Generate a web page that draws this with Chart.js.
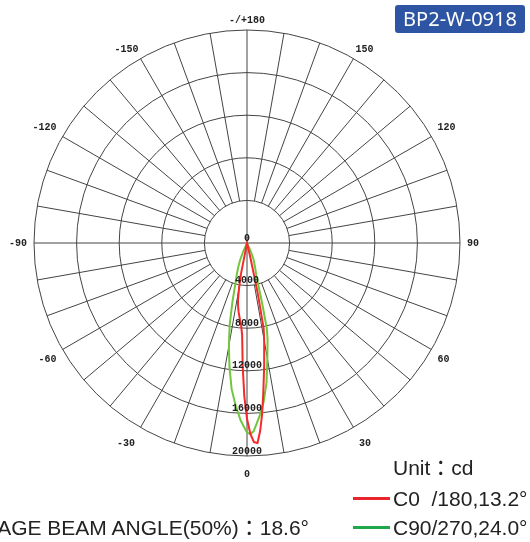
<!DOCTYPE html>
<html>
<head>
<meta charset="utf-8">
<style>
body { margin: 0; background: #fff; }
#wrap { position: relative; width: 530px; height: 542px; overflow: hidden; }
#myChart { position: absolute; left: 0; top: 0; }
.txt { position: absolute; font-family: "Liberation Sans", "Noto Sans CJK JP", sans-serif; font-size: 21px; line-height: 24px; color: #222; white-space: nowrap; }
.badge { position: absolute; left: 395px; top: 5px; width: 130px; height: 28px; border-radius: 3px; background: #2e55a3; color: #fff; font: 20px "Noto Sans", sans-serif; line-height: 28px; text-align: center; }
.swatch { position: absolute; left: 353px; width: 37px; height: 3px; }
</style>
</head>
<body>
<div id="wrap">
<canvas id="myChart" width="530" height="542"></canvas>
<div class="badge">BP2-W-0918</div>
<div class="txt" style="left:393px; top:456px;">Unit：cd</div>
<div class="swatch" style="top:497px; background:#e8262b;"></div>
<div class="txt" style="left:393px; top:487px;">C0&nbsp;&nbsp;/180,13.2°</div>
<div class="swatch" style="top:526px; background:#1ea84a;"></div>
<div class="txt" style="left:393px; top:516px;">C90/270,24.0°</div>
<div class="txt" style="right:221px; top:516px; text-align:right;">AVERAGE BEAM ANGLE(50%)：18.6°</div>
</div>

<script src="https://cdn.jsdelivr.net/npm/chart.js"></script>
<script>
// spokes of the radar, one per degree, clockwise from the top: 180 .. -179
var angles = [];
for (var i = 0; i < 360; i++) angles.push(180 - i);

var angleTicks = [180, 150, 120, 90, 60, 30, 0, -30, -60, -90, -120, -150];
var ringTicks = [0, 4000, 8000, 12000, 16000, 20000];

// C0/180 (red), candela by angle
var redAngles = [-12, -11, -10, -9, -8, -7, -6, -5, -4, -3, -2, -1, 0, 1, 2, 3, 4, 5, 6, 7, 8, 9, 10, 11, 12, 13, 14];
var redCd     = [0, 3000, 4300, 5400, 6000, 6500, 6900, 7350, 7800, 8700, 11600, 14400, 16500, 17900, 18700, 18800, 17700, 16200, 14500, 12900, 11600, 10300, 9300, 8200, 5000, 1500, 0];

// C90/270 (green)
var greenAngles = [-26, -24, -22, -20, -18, -16, -14, -12, -10, -8, -6, -4, -2, 0, 1, 2, 4, 6, 8, 10, 12, 13, 14, 16, 18, 20, 22, 24, 26];
var greenCd     = [0, 900, 1700, 2400, 3100, 3900, 5600, 7800, 9800, 11800, 13800, 15300, 16700, 17800, 17950, 17700, 16400, 15000, 13200, 11000, 9300, 8300, 6000, 3200, 2500, 2000, 1600, 900, 0];

function toSpokes(angs, vals){
	return angles.map(function(a){
		var k = angs.indexOf(a);
		return k < 0 ? null : vals[k];
	});
}

// label gap outside the outer ring, per angle
function labelPad(a){
	if (a === 0) return 12;
	if (a === 180) return 4;
	if (a === 150 || a === -150) return 4;
	if (a === 30 || a === -30) return 11;
	return 7;
}

var ringLabels = {
	id: 'ringLabels',
	afterDatasetsDraw: function(chart){
		var s = chart.scales.r;
		var ctx = chart.ctx;
		var down = angles.indexOf(0);
		ctx.save();
		ctx.font = 'bold 10px "Liberation Mono"';
		ctx.fillStyle = '#222';
		ctx.textAlign = 'center';
		ctx.textBaseline = 'middle';
		s.ticks.forEach(function(t){
			var p = s.getPointPositionForValue(down, t.value);
			ctx.fillText(t.label, p.x, p.y - 5);
		});
		ctx.restore();
	}
};

var ctx = document.getElementById('myChart').getContext('2d');
var myChart = new Chart(ctx, {
	type: 'radar',
	data: {
		labels: angles.map(function(a){ return a === 180 ? '-/+180' : String(a); }),
		datasets: [{
			label: 'C0/180',
			data: toSpokes(redAngles, redCd),
			borderColor: '#f52a2a',
			borderWidth: 2
		}, {
			label: 'C90/270',
			data: toSpokes(greenAngles, greenCd),
			borderColor: '#72c63e',
			borderWidth: 2
		}]
	},
	options: {
		responsive: false,
		animation: false,
		spanGaps: true,
		layout: { padding: { left: 6, right: 48, top: 1, bottom: 51 } },
		elements: {
			point: { radius: 0, hoverRadius: 0 },
			line: { fill: false, tension: 0 }
		},
		plugins: { legend: { display: false }, tooltip: { enabled: false } },
		scales: {
			r: {
				min: ringTicks[0],
				max: ringTicks[ringTicks.length - 1],
				ticks: {
					stepSize: ringTicks[1] - ringTicks[0],
					display: false,
					callback: function(v){ return String(v); }
				},
				grid: { circular: true, color: '#444', lineWidth: 1 },
				angleLines: {
					color: '#444',
					lineWidth: function(c){ return c.index % 10 === 0 ? 1 : 0; },
					borderDash: function(c){
						if (c.index % 90 === 0) return [];
						var r0 = c.chart.scales.r.getDistanceFromCenterForValue(ringTicks[1]);
						return [0, r0, 1000, 0];
					}
				},
				pointLabels: {
					font: { family: 'Liberation Mono', size: 10, weight: 'bold' },
					color: '#222',
					padding: function(c){ return labelPad(angles[c.index]); },
					callback: function(lbl, i){ return angleTicks.indexOf(angles[i]) < 0 ? '' : lbl; }
				}
			}
		}
	},
	plugins: [ringLabels]
});
</script>
</body>
</html>
